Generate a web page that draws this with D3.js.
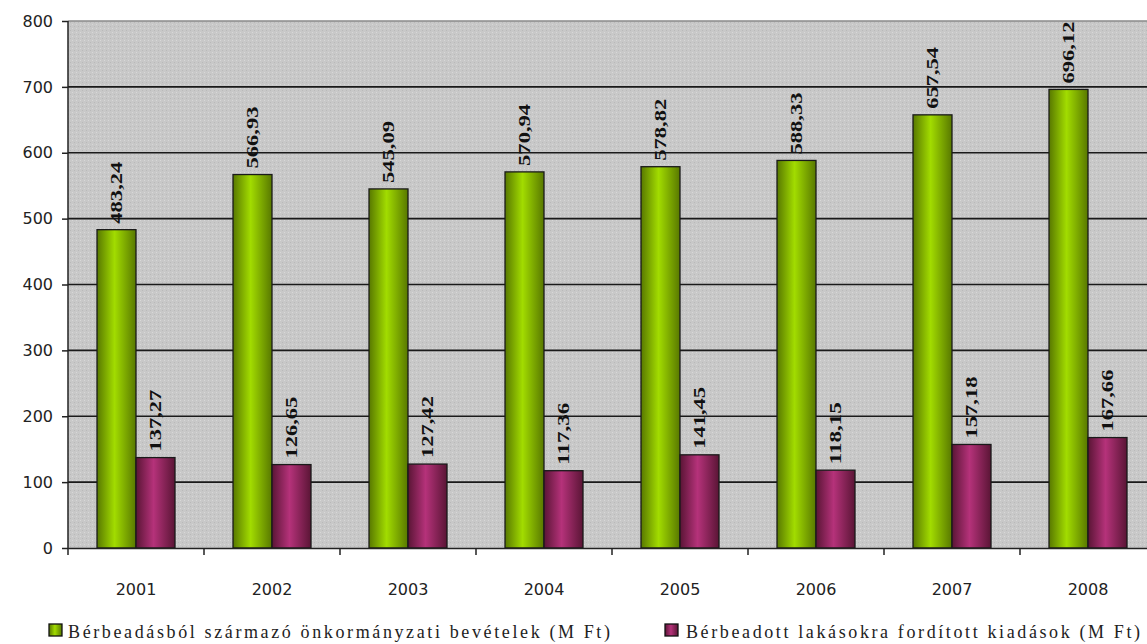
<!DOCTYPE html>
<html><head><meta charset="utf-8">
<script src="https://cdn.jsdelivr.net/npm/d3@7"></script>
<style>body{margin:0;background:#fff;}svg{display:block;}</style>
</head><body>
<script>
const years = ["2001","2002","2003","2004","2005","2006","2007","2008"];
const revenue = [483.24,566.93,545.09,570.94,578.82,588.33,657.54,696.12];
const expense = [137.27,126.65,127.42,117.36,141.45,118.15,157.18,167.66];
const seriesNames = ["Bérbeadásból származó önkormányzati bevételek (M Ft)","Bérbeadott lakásokra fordított kiadások (M Ft)"];
const yTicks = [0,100,200,300,400,500,600,700,800];

const W=1147,H=644;
const mLeft=68,mRight=1156,mTop=21,mBottom=548;
const svg=d3.select("body").append("svg").attr("width",W).attr("height",H);
const defs=svg.append("defs");
const pat=defs.append("pattern").attr("id","dots").attr("width",4).attr("height",4).attr("patternUnits","userSpaceOnUse");
pat.append("rect").attr("width",4).attr("height",4).attr("fill","#c8c8c8");
pat.append("rect").attr("width",1).attr("height",1).attr("fill","#d8d8d8");
pat.append("rect").attr("x",2).attr("y",2).attr("width",1).attr("height",1).attr("fill","#b9b9b9");
function grad(id,edge,mid){
  const g=defs.append("linearGradient").attr("id",id).attr("x1","0").attr("x2","1").attr("y1","0").attr("y2","0");
  g.append("stop").attr("offset","0").attr("stop-color",edge);
  g.append("stop").attr("offset","0.45").attr("stop-color",mid);
  g.append("stop").attr("offset","1").attr("stop-color",edge);
}
grad("gGreen","#587800","#a2dc00");
grad("gRed","#5a1535","#b5327a");

const x=d3.scaleBand().domain(years).range([mLeft,mRight]).paddingInner(0).paddingOuter(0);
const y=d3.scaleLinear().domain([0,800]).range([mBottom,mTop]);
const barW=39;

svg.append("rect").attr("x",mLeft).attr("y",mTop).attr("width",mRight-mLeft).attr("height",mBottom-mTop).attr("fill","url(#dots)");
svg.selectAll(".grid").data(yTicks.filter(d=>d>0&&d<800)).enter().append("line")
  .attr("x1",mLeft).attr("x2",mRight).attr("y1",d=>y(d)).attr("y2",d=>y(d)).attr("stroke","#1a1a1a").attr("stroke-width",1.6);
svg.append("line").attr("x1",mLeft).attr("x2",mRight).attr("y1",y(800)).attr("y2",y(800)).attr("stroke","#8a8a8a").attr("stroke-width",1.5);

const g=svg.append("g");
years.forEach((yr,i)=>{
  const c=x(yr)+x.bandwidth()/2;
  [[revenue[i],"url(#gGreen)",c-barW],[expense[i],"url(#gRed)",c]].forEach(([v,f,bx])=>{
    g.append("rect").attr("x",bx).attr("y",y(v)).attr("width",barW).attr("height",y(0)-y(v))
      .attr("fill",f).attr("stroke","#1a1a1a").attr("stroke-width",1.3);
    const lx=bx+barW/2, ly=y(v)-6;
    const t=g.append("text")
      .attr("font-family","Liberation Serif, serif").attr("font-weight","bold").attr("font-size",17)
      .attr("fill","#111").text(v.toFixed(2).replace(".",","));
    const len=t.node().getComputedTextLength();
    t.attr("transform",`translate(${lx+5},${ly}) rotate(-90) scale(${62/len},1)`);
  });
});

svg.append("line").attr("x1",mLeft).attr("x2",mLeft).attr("y1",mTop).attr("y2",mBottom+1).attr("stroke","#222").attr("stroke-width",1.5);
const ya=svg.append("g").attr("transform",`translate(${mLeft},0)`).call(d3.axisLeft(y).tickValues(yTicks).tickSize(6).tickPadding(9).tickFormat(d3.format("d")));
ya.select(".domain").remove();
ya.selectAll("line").attr("stroke","#222").attr("stroke-width",1.5);
ya.selectAll("text").attr("font-family","DejaVu Sans, sans-serif").attr("font-size",16).attr("fill","#222");

const xa=svg.append("g").attr("transform",`translate(0,${mBottom})`).call(d3.axisBottom(x).tickSize(0).tickPadding(36));
xa.select(".domain").attr("stroke","#222").attr("stroke-width",1.6);
xa.selectAll("text").attr("font-family","DejaVu Sans, sans-serif").attr("font-size",16).attr("fill","#222");
svg.selectAll(".xt").data(years).enter().append("line")
  .attr("x1",d=>x(d)).attr("x2",d=>x(d)).attr("y1",mBottom).attr("y2",mBottom+7).attr("stroke","#222").attr("stroke-width",1.5);

const leg=[{x:49,fill:"url(#gGreen)",tx:68,len:542,name:seriesNames[0]},{x:665,fill:"url(#gRed)",tx:686,len:454,name:seriesNames[1]}];
leg.forEach(l=>{
  svg.append("rect").attr("x",l.x).attr("y",624).attr("width",13).attr("height",12).attr("fill",l.fill).attr("stroke","#111").attr("stroke-width",1.3);
  svg.append("text").attr("x",l.tx).attr("y",638).attr("font-family","Liberation Serif, serif").attr("font-size",18)
    .attr("fill","#222").attr("textLength",l.len).attr("lengthAdjust","spacing").text(l.name);
});
</script>
</body></html>
